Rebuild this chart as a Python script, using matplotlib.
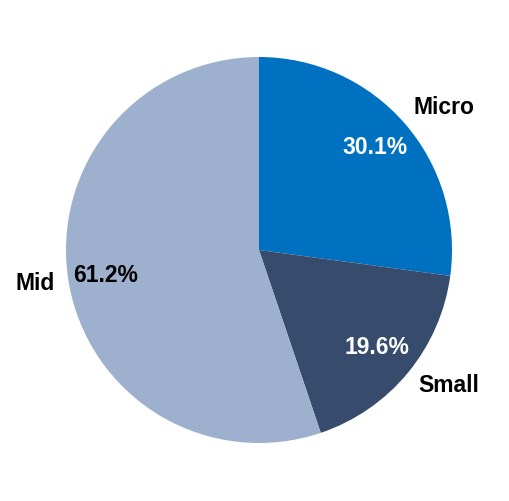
import matplotlib
matplotlib.use("Agg")
import matplotlib.pyplot as plt

categories = ["Micro", "Small", "Mid"]
values = [30.1, 19.6, 61.2]
pct_labels = ["30.1%", "19.6%", "61.2%"]
colors = ["#0070C0", "#374C6D", "#9DB0CD"]

W, H = 509, 501
cx, cy, R = 259, 250, 193  # pixel centre (from top) and radius

fig = plt.figure(figsize=(W / 100, H / 100), dpi=100)
ax = fig.add_axes([0, 0, 1, 1])
ax.pie(values, colors=colors, startangle=90, counterclock=False,
       radius=1.0, center=(0, 0), wedgeprops=dict(linewidth=0))
ax.set_xlim(-cx / R, (W - cx) / R)
ax.set_ylim(-(H - cy) / R, cy / R)
ax.set_aspect("auto")
ax.axis("off")

def px(x, y):
    return (x - cx) / R, (cy - y) / R

font = dict(family=["Liberation Sans", "DejaVu Sans"], fontweight="bold", fontsize=16.5,
            ha="center", va="center")
cat_pos = [(444, 107), (449, 386), (35, 283)]
pct_pos = [(374.5, 148), (377, 348), (105.5, 275)]
pct_col = ["white", "white", "black"]
for c, p, cp, pp, col in zip(categories, pct_labels, cat_pos, pct_pos, pct_col):
    ax.text(*px(*cp), c, color="black", **font)
    ax.text(*px(*pp), p, color=col, **font)

fig.savefig("out.png", dpi=100)
